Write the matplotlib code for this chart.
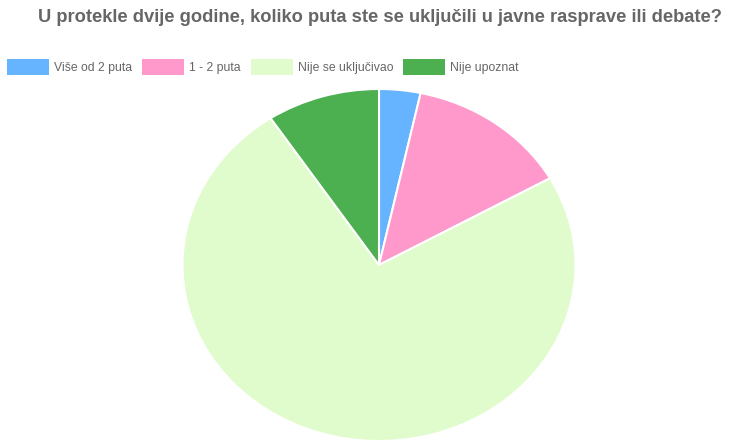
import matplotlib.pyplot as plt

# answers to the survey question (share of respondents, %)
labels = ['Više od 2 puta', '1 - 2 puta', 'Nije se uključivao', 'Nije upoznat']
values = [3.4, 13.4, 73.9, 9.3]
colors = ['#66b3ff', '#ff99cc', '#e0fccc', '#4caf50']

title = 'U protekle dvije godine, koliko puta ste se uključili u javne rasprave ili debate?'

plt.rcParams['font.family'] = ['Liberation Sans', 'DejaVu Sans']

W, H = 749, 441
fig = plt.figure(figsize=(W / 100, H / 100), dpi=100)

# pie area, a bit wider than tall like the original
cx, cy, rx, ry = 379, 265, 196.5, 176
ax = fig.add_axes([(cx - rx) / W, (H - cy - ry) / H, 2 * rx / W, 2 * ry / H])
wedges, _ = ax.pie(values, colors=colors, startangle=90, counterclock=False,
                   radius=1, wedgeprops=dict(edgecolor='white', linewidth=1.5))
ax.set_aspect('auto')
ax.set_xlim(-1, 1)
ax.set_ylim(-1, 1)
ax.axis('off')

fig.text(380 / W, 1 - 18 / H, title, ha='center', va='center',
         fontsize=13.2, fontweight='bold', color='#666666')

fs = 8.8
px = fs * 100 / 72
leg = fig.legend(wedges, labels, ncol=4, loc='center left', bbox_to_anchor=(7 / W, 1 - 67 / H),
                 frameon=False, fontsize=fs, labelcolor='#666666',
                 handlelength=42 / px, handleheight=1.7, handletextpad=5 / px,
                 columnspacing=10 / px, borderaxespad=0, borderpad=0)
for h in leg.legend_handles:
    h.set_linewidth(0)

fig.savefig('out.png', dpi=100)
